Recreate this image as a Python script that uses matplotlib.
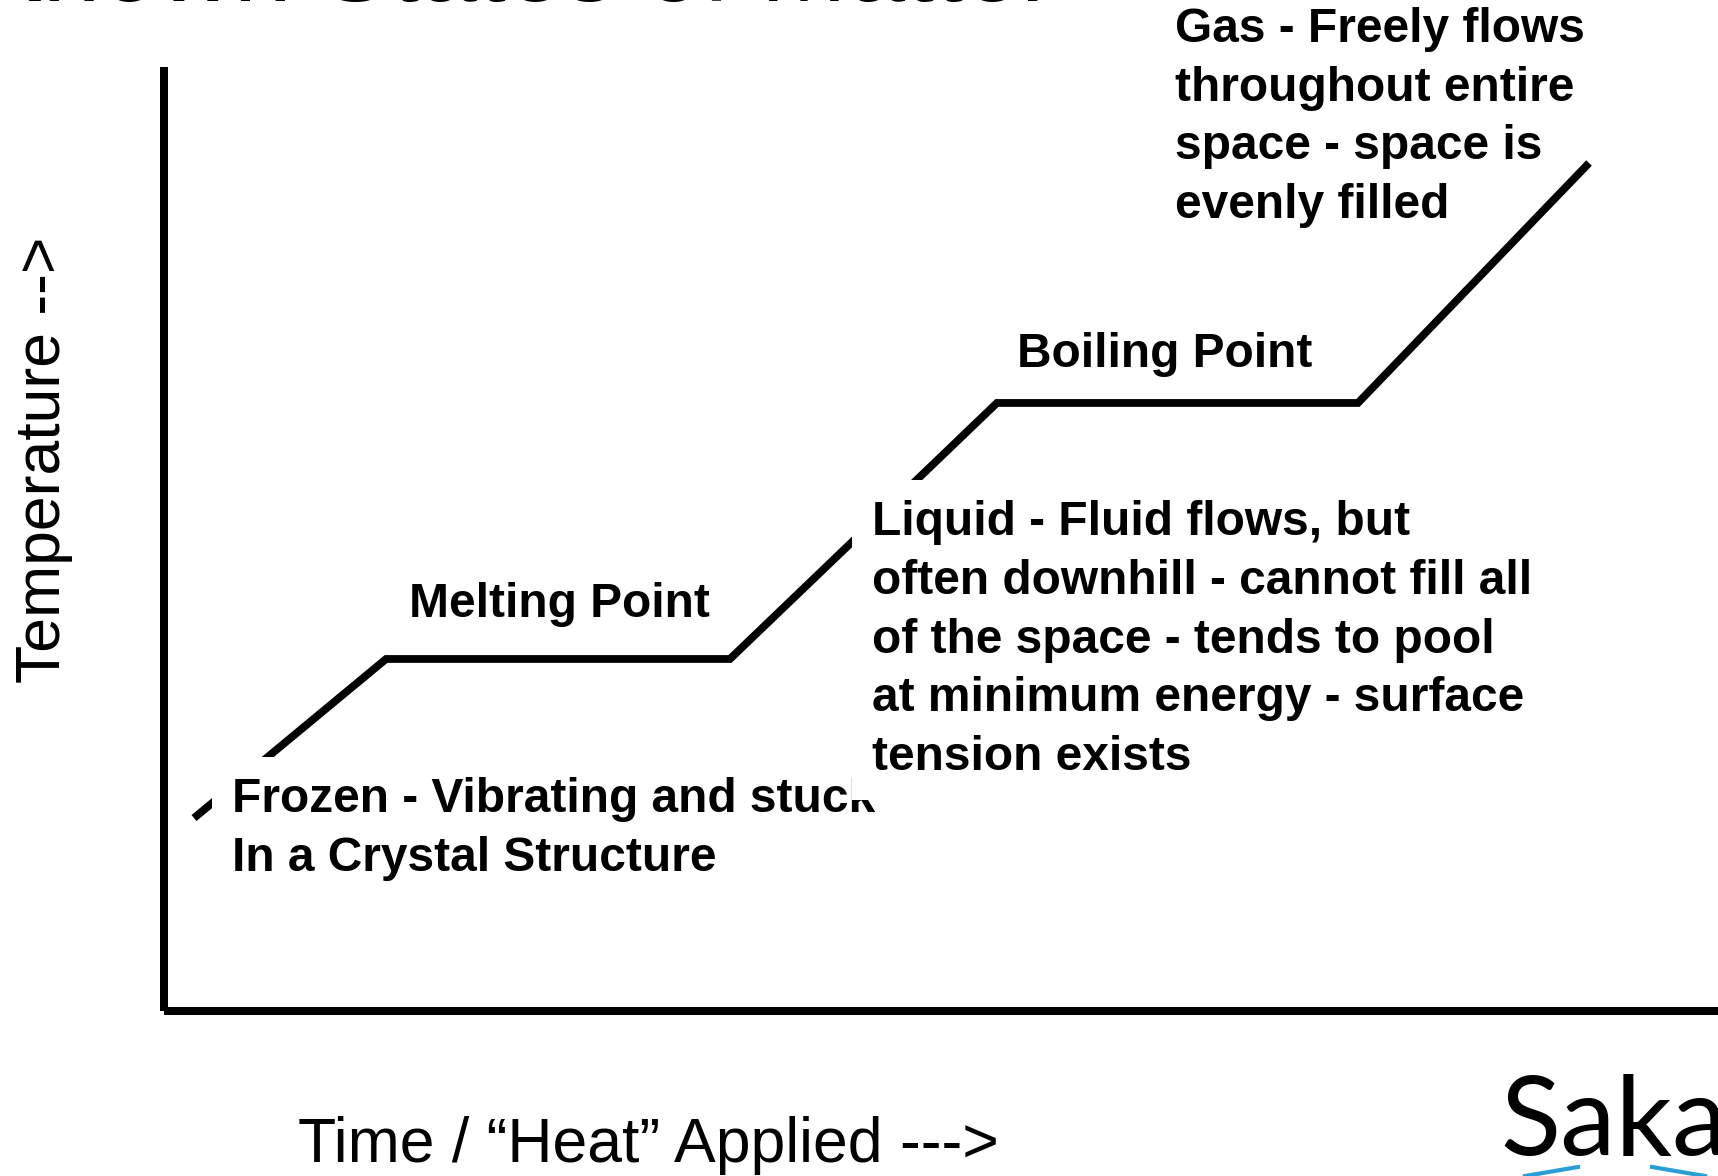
import matplotlib
matplotlib.use("Agg")
import matplotlib.pyplot as plt
from matplotlib.lines import Line2D

# ---------------- data ----------------
heat_applied = [1.93, 14.29, 36.42, 53.60, 76.83, 91.70]      # time / heat (0-100 scale)
temperature = [20.44, 37.29, 37.29, 64.41, 64.41, 89.83]       # temperature (0-100 scale)

title_text = "Known States of Matter"
x_label = "Time / \u201cHeat\u201d Applied --->"
y_label = "Temperature -->"
melting_label = "Melting Point"
boiling_label = "Boiling Point"
frozen_lines = ["Frozen - Vibrating and stuck", "In a Crystal Structure"]
liquid_lines = ["Liquid - Fluid flows, but", "often downhill - cannot fill all",
                "of the space - tends to pool", "at minimum energy - surface",
                "tension exists"]
gas_lines = ["Gas - Freely flows", "throughout entire", "space - space is",
             "evenly filled"]
logo_text = "Sakai"

# ---------------- layout ----------------
W, H = 1718, 1176
fig = plt.figure(figsize=(W / 100, H / 100), dpi=100)
fig.patch.set_facecolor("white")


def fx(x):
    return x / W


def fy(y):
    return 1 - y / H


ax = fig.add_axes([fx(164), fy(1011), 1 - fx(164), fy(67) - fy(1011)])
ax.set_xlim(0, 100)
ax.set_ylim(0, 100)
ax.set_xticks([])
ax.set_yticks([])
for s in ["top", "right"]:
    ax.spines[s].set_visible(False)
for s in ["left", "bottom"]:
    ax.spines[s].set_linewidth(5.76)
    ax.spines[s].set_color("black")
    ax.spines[s].set_capstyle("butt")
ax.set_facecolor("none")

ax.plot(heat_applied, temperature, color="black", lw=5.6,
        solid_joinstyle="miter", solid_capstyle="butt", clip_on=False, zorder=2)

bold_family = ["Liberation Sans", "DejaVu Sans"]
bsize = 34.5
ls = 1.39           # gives ~57 px between baselines
step = 57           # px between baselines
pad_pts = 20 * 0.72  # 20 px padding
reg_family = ["Liberation Sans", "DejaVu Sans"]


def block(x, first_baseline, lines, z, box):
    last = first_baseline + step * (len(lines) - 1)
    kw = {}
    if box:
        kw["bbox"] = dict(boxstyle=f"square,pad={pad_pts / bsize:.3f}",
                          fc="white", ec="none")
    fig.text(fx(x), fy(last), "\n".join(lines), family=bold_family, fontsize=bsize,
             fontweight="bold", ha="left", va="baseline", linespacing=ls,
             multialignment="left", zorder=z, **kw)


# title (cut off at the top)
fig.text(fx(-27), fy(1), title_text, family=reg_family, fontsize=75,
         ha="left", va="baseline", color="black")

# stage labels
fig.text(fx(409), fy(617), melting_label, family=bold_family, fontsize=bsize,
         fontweight="bold", ha="left", va="baseline", zorder=3)
fig.text(fx(1017), fy(367), boiling_label, family=bold_family, fontsize=bsize,
         fontweight="bold", ha="left", va="baseline", zorder=3)

block(232, 814, frozen_lines, 3, True)
block(872, 542, liquid_lines, 4, True)
block(1175, 47, gas_lines, 3, False)

# axis labels
fig.text(fx(298), fy(1162), x_label, family=reg_family, fontsize=45,
         ha="left", va="baseline")
fig.text(fx(60), fy(460), y_label, family=reg_family, fontsize=45,
         rotation=90, rotation_mode="anchor", ha="center", va="baseline")

# logo
fig.text(fx(1500), fy(1155), logo_text, family=["Lato", "Open Sans", "DejaVu Sans"],
         fontsize=80, ha="left", va="baseline", color="black")
blue = "#2a9fd6"
fig.add_artist(Line2D([fx(1525), fx(1578)], [fy(1176), fy(1167)], color=blue, lw=3,
                      transform=fig.transFigure))
fig.add_artist(Line2D([fx(1652), fx(1705)], [fy(1167), fy(1176)], color=blue, lw=3,
                      transform=fig.transFigure))

fig.savefig("out.png", dpi=100)
